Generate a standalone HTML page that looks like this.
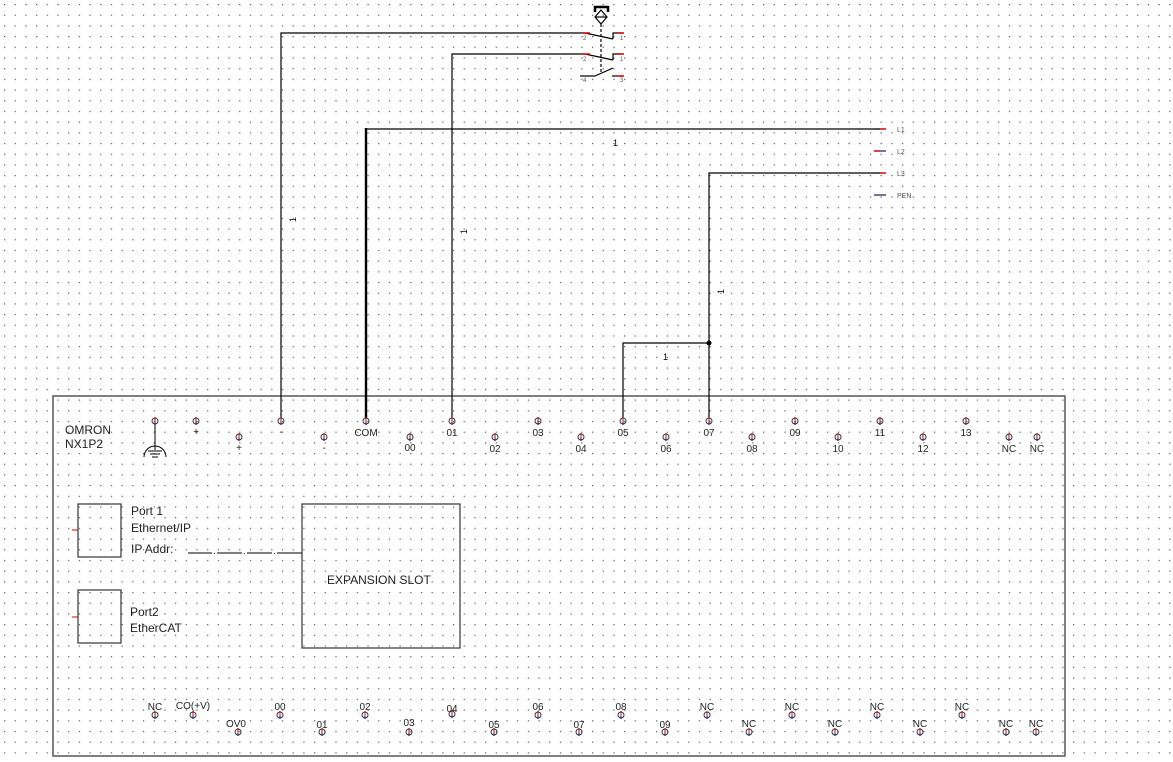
<!DOCTYPE html>
<html><head><meta charset="utf-8"><style>
html,body{margin:0;padding:0;background:#fff;}
svg{display:block;font-family:"Liberation Sans",sans-serif;}
</style></head><body>
<svg width="1173" height="762" viewBox="0 0 1173 762" xmlns="http://www.w3.org/2000/svg">
<defs>
<pattern id="g" x="4" y="4" width="10.69" height="10.69" patternUnits="userSpaceOnUse">
<rect x="0" y="0" width="1.2" height="1.2" fill="#555"/>
</pattern>
<g id="t"><line x1="0" y1="-4" x2="0" y2="4" stroke="#d00" stroke-width="1"/><line x1="0" y1="1" x2="0" y2="4" stroke="#00c" stroke-width="1"/><circle cx="0" cy="0" r="3" fill="none" stroke="#333" stroke-width="1"/></g>
</defs>
<rect width="1173" height="762" fill="url(#g)"/>
<rect x="53" y="396" width="1012" height="360" fill="none" stroke="#555" stroke-width="1.5"/>
<g stroke="#000" stroke-width="1.2" fill="none">
<polyline points="281,418 281,33 585,33"/>
<polyline points="452,418 452,54 585,54"/>
<polyline points="709,418 709,173 880,173"/>
<polyline points="623,418 623,343 709,343"/>
<polyline points="366,129 880,129"/>
</g>
<line x1="366" y1="418" x2="366" y2="128" stroke="#000" stroke-width="2.4"/>
<circle cx="709" cy="343" r="2.5" fill="#000"/>
<g stroke-width="1.5">
<line x1="874" y1="129" x2="880" y2="129" stroke="#333"/><line x1="880" y1="129" x2="886" y2="129" stroke="#d00"/>
<line x1="874" y1="151" x2="880" y2="151" stroke="#d00"/><line x1="880" y1="151" x2="886" y2="151" stroke="#448"/>
<line x1="874" y1="173" x2="880" y2="173" stroke="#333"/><line x1="880" y1="173" x2="886" y2="173" stroke="#d00"/>
<line x1="874" y1="195" x2="886" y2="195" stroke="#448"/>
</g>
<g font-size="7" fill="#555"><text x="897" y="132">L1</text><text x="897" y="154">L2</text><text x="897" y="176">L3</text><text x="897" y="198">PEN</text></g>
<g font-size="9" fill="#000">
<text x="613" y="146">1</text>
<text x="663" y="360">1</text>
<text transform="translate(296,222) rotate(-90)">1</text>
<text transform="translate(467,234) rotate(-90)">1</text>
<text transform="translate(724,294) rotate(-90)">1</text>
</g>
<g stroke="#000" stroke-width="1.2" fill="none">
<path d="M595,12 V7 H608 V12" stroke-width="2.5"/>
<path d="M601,10 L607,17 L601,24 L595,17 Z"/>
<line x1="596" y1="17" x2="606" y2="17"/>
<line x1="601" y1="24" x2="601" y2="72" stroke-dasharray="3,2"/>
<line x1="585" y1="33" x2="613" y2="39"/>
<polyline points="613,39 613,33 622,33"/>
<line x1="585" y1="54" x2="613" y2="60"/>
<polyline points="613,60 613,54 622,54"/>
<line x1="595" y1="76" x2="613" y2="68"/>
<line x1="580" y1="76" x2="595" y2="76"/>
<line x1="612" y1="76" x2="622" y2="76"/>
</g>
<g stroke="#d00" stroke-width="1.5"><line x1="583" y1="33" x2="590" y2="33"/><line x1="583" y1="54" x2="590" y2="54"/><line x1="618" y1="33" x2="624" y2="33"/><line x1="618" y1="54" x2="624" y2="54"/><line x1="618" y1="76" x2="624" y2="76"/></g>
<g font-size="6" fill="#555"><text x="583" y="40">2</text><text x="583" y="61">2</text><text x="583" y="82">4</text><text x="620" y="40">1</text><text x="620" y="61">1</text><text x="620" y="82">3</text></g>
<g>
<use href="#t" x="155" y="421"/><use href="#t" x="196" y="421"/><use href="#t" x="281" y="421"/><use href="#t" x="366" y="421"/><use href="#t" x="452" y="421"/><use href="#t" x="538" y="421"/><use href="#t" x="623" y="421"/><use href="#t" x="709" y="421"/><use href="#t" x="795" y="421"/><use href="#t" x="880" y="421"/><use href="#t" x="966" y="421"/>
<use href="#t" x="239" y="437"/><use href="#t" x="324" y="437"/><use href="#t" x="410" y="437"/><use href="#t" x="495" y="437"/><use href="#t" x="581" y="437"/><use href="#t" x="666" y="437"/><use href="#t" x="752" y="437"/><use href="#t" x="838" y="437"/><use href="#t" x="923" y="437"/><use href="#t" x="1009" y="437"/><use href="#t" x="1037" y="437"/>
</g>
<g stroke="#000" fill="none" stroke-width="1"><line x1="155" y1="424" x2="155" y2="450"/><path d="M144,457 A11,11 0 0 1 166,457"/><line x1="148" y1="451" x2="162" y2="451"/><line x1="150" y1="454" x2="160" y2="454"/><line x1="152" y1="457" x2="158" y2="457"/></g>
<g font-size="10" fill="#222" text-anchor="middle">
<text x="196" y="435">+</text><text x="281" y="435">-</text><text x="366" y="436">COM</text><text x="452" y="436">01</text><text x="538" y="436">03</text><text x="623" y="436">05</text><text x="709" y="436">07</text><text x="795" y="436">09</text><text x="880" y="436">11</text><text x="966" y="436">13</text>
<text x="239" y="451">+</text><text x="324" y="451">-</text><text x="410" y="451">00</text><text x="495" y="452">02</text><text x="581" y="452">04</text><text x="666" y="452">06</text><text x="752" y="452">08</text><text x="838" y="452">10</text><text x="923" y="452">12</text><text x="1009" y="452">NC</text><text x="1037" y="452">NC</text>
</g>
<g font-size="12" fill="#222"><text x="65" y="434">OMRON</text><text x="65" y="448">NX1P2</text></g>
<g stroke="#333" fill="none" stroke-width="1.2">
<rect x="78" y="504" width="43" height="53"/><rect x="78" y="590" width="43" height="53"/>
<rect x="302" y="504" width="158" height="144"/>
<line x1="188" y1="553" x2="212" y2="553"/><line x1="217" y1="553" x2="242" y2="553"/><line x1="247" y1="553" x2="272" y2="553"/><line x1="277" y1="553" x2="302" y2="553"/>
</g>
<line x1="72" y1="530" x2="78" y2="530" stroke="#d00"/><line x1="72" y1="617" x2="78" y2="617" stroke="#d00"/>
<g font-size="12" fill="#222"><text x="131" y="515">Port 1</text><text x="131" y="532">Ethernet/IP</text><text x="131" y="553">IP Addr:</text><text x="130" y="616">Port2</text><text x="130" y="632">EtherCAT</text><text x="327" y="584">EXPANSION SLOT</text></g>
<g font-size="10" fill="#222"><text x="213" y="554">.</text><text x="243" y="554">.</text><text x="273" y="554">.</text></g>
<g>
<use href="#t" x="155" y="715"/><use href="#t" x="193" y="715"/><use href="#t" x="280" y="715"/><use href="#t" x="365" y="715"/><use href="#t" x="452" y="714"/><use href="#t" x="538" y="715"/><use href="#t" x="621" y="715"/><use href="#t" x="707" y="715"/><use href="#t" x="792" y="715"/><use href="#t" x="877" y="715"/><use href="#t" x="962" y="715"/>
<use href="#t" x="238" y="732"/><use href="#t" x="322" y="732"/><use href="#t" x="409" y="732"/><use href="#t" x="494" y="732"/><use href="#t" x="579" y="732"/><use href="#t" x="665" y="732"/><use href="#t" x="749" y="732"/><use href="#t" x="835" y="732"/><use href="#t" x="920" y="732"/><use href="#t" x="1006" y="732"/><use href="#t" x="1036" y="732"/>
</g>
<g font-size="10" fill="#222" text-anchor="middle">
<text x="155" y="710">NC</text><text x="193" y="709">CO(+V)</text><text x="280" y="710">00</text><text x="365" y="710">02</text><text x="452" y="712">04</text><text x="538" y="710">06</text><text x="621" y="710">08</text><text x="707" y="710">NC</text><text x="792" y="710">NC</text><text x="877" y="710">NC</text><text x="962" y="710">NC</text>
<text x="236" y="727">OV0</text><text x="322" y="728">01</text><text x="409" y="726">03</text><text x="494" y="728">05</text><text x="579" y="728">07</text><text x="665" y="728">09</text><text x="749" y="727">NC</text><text x="835" y="727">NC</text><text x="920" y="727">NC</text><text x="1006" y="727">NC</text><text x="1036" y="727">NC</text>
</g>
</svg>
</body></html>
